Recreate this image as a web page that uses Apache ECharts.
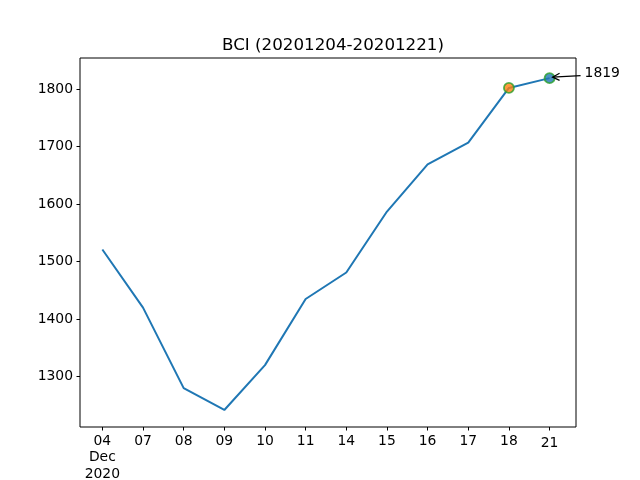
<!DOCTYPE html>
<html>
<head>
<meta charset="utf-8">
<script src="https://cdn.jsdelivr.net/npm/echarts@6/dist/echarts.min.js"></script>
<style>html,body{margin:0;padding:0;background:#fff;}#c{width:640px;height:480px;}</style>
</head>
<body>
<div id="c"></div>
<script>
var categories = ['04', '07', '08', '09', '10', '11', '14', '15', '16', '17', '18', '21'];
var values = [1521, 1420, 1280, 1242, 1320, 1435, 1481, 1587, 1669, 1707, 1802, 1819];
var yTicks = [1300, 1400, 1500, 1600, 1700, 1800];
var highlightIdx = [10, 11];
var highlightFill = ['#ff7f0e', '#1f77b4'];
var annotationText = '1819';
var titleText = 'BCI (20201204-20201221)';

var FONT = 'DejaVu Sans';
var idx = categories.map(function (_, i) { return i; });
var lineData = values.map(function (v, i) { return [i, v]; });

var chart = echarts.init(document.getElementById('c'), null, {renderer: 'canvas'});
chart.setOption({
  animation: false,
  backgroundColor: '#fff',
  title: {
    text: titleText,
    left: 328, top: 32, textAlign: 'center',
    textStyle: {fontFamily: FONT, fontSize: 16.7, fontWeight: 'normal', color: '#000'}
  },
  grid: {left: 80, right: 64, top: 58, bottom: 53, containLabel: false, outerBoundsMode: 'none',
    show: true, borderColor: '#000', borderWidth: 1, backgroundColor: 'transparent'},
  xAxis: {
    type: 'value', min: -0.55, max: 11.65,
    axisLine: {show: false, onZero: false},
    splitLine: {show: false},
    axisTick: {show: true, customValues: idx, length: 3.5, inside: false, lineStyle: {color: '#000', width: 1}},
    axisLabel: {
      customValues: idx, margin: 6,
      fontFamily: FONT, fontSize: 13.9, color: '#000', lineHeight: 16.5,
      formatter: function (v) {
        var i = Math.round(v);
        if (i === 0) return categories[0] + '\nDec\n2020';
        if (i === categories.length - 1) return '{low|' + categories[i] + '}';
        return categories[i];
      },
      rich: {low: {fontFamily: FONT, fontSize: 13.9, color: '#000', padding: [4, 0, 0, 0]}}
    }
  },
  yAxis: {
    type: 'value', min: 1212.4, max: 1854,
    axisLine: {show: false, onZero: false},
    splitLine: {show: false},
    axisTick: {show: true, customValues: yTicks, length: 3.5, lineStyle: {color: '#000', width: 1}},
    axisLabel: {customValues: yTicks, margin: 7, fontFamily: FONT, fontSize: 13.9, color: '#000',
      formatter: function (v) { return String(Math.round(v)); }}
  },
  series: [
    {
      type: 'line', data: lineData, showSymbol: false, symbol: 'none',
      lineStyle: {color: '#1f77b4', width: 2}, z: 2
    },
    {
      type: 'scatter', symbolSize: 10, z: 3,
      data: highlightIdx.map(function (i, k) {
        return {value: [i, values[i]], itemStyle: {color: highlightFill[k], borderColor: '#2ca02c', borderWidth: 1.8}};
      })
    },
    {
      type: 'custom', z: 4, clip: false,
      data: [[highlightIdx[1], values[highlightIdx[1]]]],
      renderItem: function (params, api) {
        var p = api.coord([api.value(0), api.value(1)]);
        var tip = [p[0] + 3, p[1] - 1];
        var tail = [p[0] + 31, p[1] - 2.5];
        return {
          type: 'group',
          children: [
            {type: 'line', shape: {x1: tail[0], y1: tail[1], x2: tip[0], y2: tip[1]}, style: {stroke: '#000', lineWidth: 1.2}},
            {type: 'polyline', shape: {points: [[tip[0] + 7, tip[1] - 3.8], tip, [tip[0] + 7, tip[1] + 3.2]]}, style: {stroke: '#000', lineWidth: 1.2, fill: null}},
            {type: 'text', style: {x: p[0] + 35, y: p[1] - 4.5, text: annotationText, fontFamily: FONT, fontSize: 13.9, fill: '#000', textAlign: 'left', textVerticalAlign: 'middle'}}
          ]
        };
      }
    }
  ]
});
</script>
</body>
</html>
